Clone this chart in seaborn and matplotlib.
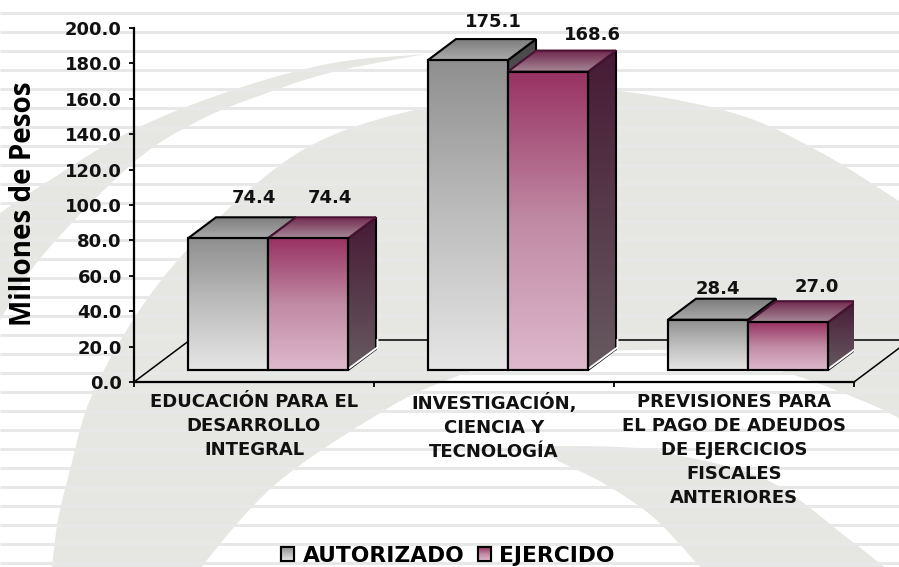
import numpy as np
import pandas as pd
import matplotlib
matplotlib.use('Agg')
import matplotlib.pyplot as plt
import seaborn as sns
from matplotlib.colors import LinearSegmentedColormap
from matplotlib.patches import Polygon

# Datos
categorias = ['EDUCACIÓN PARA EL\nDESARROLLO\nINTEGRAL',
              'INVESTIGACIÓN,\nCIENCIA Y\nTECNOLOGÍA',
              'PREVISIONES PARA\nEL PAGO DE ADEUDOS\nDE EJERCICIOS\nFISCALES\nANTERIORES']
series = ['AUTORIZADO', 'EJERCIDO']
autorizado = [74.4, 175.1, 28.4]
ejercido = [74.4, 168.6, 27.0]
y_ticks = [0, 20, 40, 60, 80, 100, 120, 140, 160, 180, 200]

df = pd.DataFrame({
    'categoria': categorias * 2,
    'serie': [series[0]] * 3 + [series[1]] * 3,
    'valor': autorizado + ejercido,
})

# Colores de los degradados (arriba -> abajo)
frente = {series[0]: ['#8f8f8f', '#bdbdbd', '#e6e6e6'], series[1]: ['#983263', '#c08aa4', '#dfb9cd']}
tapa = {series[0]: ['#7d7d7d', '#aaaaaa'], series[1]: ['#73294f', '#a58a98']}
lado = {series[0]: ['#4a4a4a', '#666666'], series[1]: ['#471a35', '#675a60']}
gris_fondo = '#e6e6e3'
raya = '#e8e8e8'

W, H = 899, 567
sns.set_theme(style='white')
plt.rcParams['font.family'] = ['DejaVu Sans']
plt.rcParams['font.weight'] = 'bold'

fig = plt.figure(figsize=(W / 100, H / 100), dpi=100, facecolor='white')


def curva(puntos, n=24):
    # Catmull-Rom para que los bordes del fondo queden suaves
    p = np.array(puntos, dtype=float)
    p = np.vstack([2 * p[0] - p[1], p, 2 * p[-1] - p[-2]])
    salida = []
    for i in range(1, len(p) - 2):
        for t in np.linspace(0, 1, n, endpoint=False):
            salida.append(0.5 * (2 * p[i] + (p[i + 1] - p[i - 1]) * t
                                 + (2 * p[i - 1] - 5 * p[i] + 4 * p[i + 1] - p[i + 2]) * t ** 2
                                 + (3 * p[i] - p[i - 1] - 3 * p[i + 1] + p[i + 2]) * t ** 3))
    salida.append(p[-2])
    return np.array(salida)


# Fondo: rayas y arcos, en pixeles
bg = fig.add_axes([0, 0, 1, 1], zorder=0)
bg.set_xlim(0, W)
bg.set_ylim(H, 0)
bg.axis('off')
bg.hlines(13 + 18.95 * np.arange(30), 0, W, color=raya, lw=2.2)

media_luna = np.vstack([
    curva([(-10, 220), (0, 213), (50, 180), (133, 130), (233, 90), (333, 63), (425, 54)]),
    curva([(425, 54), (333, 72), (267, 93), (200, 120), (133, 163), (43, 255), (0, 320), (-10, 335)]),
])
anillo = np.vstack([
    curva([(50, 580), (52, 567), (58, 520), (70, 470), (90, 400), (133, 320), (187, 250), (267, 175),
           (333, 135), (423, 108), (520, 92), (610, 90), (733, 113), (820, 152), (910, 208)]),
    curva([(910, 425), (877, 407), (800, 377), (720, 355), (640, 350), (520, 358), (440, 383), (380, 413),
           (277, 483), (207, 560), (198, 580)]),
])
banda = np.vstack([
    curva([(540, 446), (617, 447), (667, 453), (767, 480), (850, 540), (900, 580)]),
    curva([(712, 580), (700, 567), (653, 517), (603, 483), (557, 460), (540, 446)]),
])
for forma in [media_luna, anillo, banda]:
    bg.fill(forma[:, 0], forma[:, 1], color=gris_fondo, lw=0)

# Ejes: 0 en y=382, 200 en y=28, categorias de 134 a 854
ax = fig.add_axes([134 / W, 1 - 382 / H, 720 / W, 354 / H], zorder=1)
ax.patch.set_visible(False)
sns.barplot(data=df, x='categoria', y='valor', hue='serie', hue_order=series,
            palette=[frente[s][1] for s in series], width=2 / 3, gap=0, dodge=True,
            edgecolor='black', linewidth=1.5, ax=ax)
handles = ax.get_legend().legend_handles
labels = series
ax.get_legend().remove()

px_x = 1 / 240
px_y = 200 / 354
xlim = (-0.5, 2.5)
ylim = (0, 200)
dx, dy = 28 * px_x, 21 * px_y
corr_x, base = 14 * px_x, 12 * px_y


def cara(verts, colores, z, borde='black', lw=1.5):
    xs, ys = zip(*verts)
    pol = Polygon(verts, closed=True, facecolor='none', edgecolor=borde, lw=lw, zorder=z + 0.1, joinstyle='miter')
    ax.add_patch(pol)
    cmap = LinearSegmentedColormap.from_list('g', colores)
    img = ax.imshow(np.linspace(0, 1, 256)[:, None], cmap=cmap, aspect='auto', zorder=z, interpolation='bilinear',
                    extent=(min(xs), max(xs), min(ys), max(ys)))
    img.set_clip_path(pol)


etiqueta_dx = [26, 25, 10, 22, 44, 29]
etiqueta_dy = [40, 38, 31, 40, 37, 35]
barras = [b for c in ax.containers for b in c]
valores = autorizado + ejercido
for i, barra in enumerate(barras):
    s = series[i // 3]
    x0 = barra.get_x() + corr_x
    ancho = barra.get_width()
    alto = barra.get_height()
    barra.set_x(x0)
    barra.set_y(base)
    x1, y0, y1 = x0 + ancho, base, base + alto
    z = 3 + (i % 3) * 2 + (i // 3)
    borde = 'black' if i < 3 else '#4a1233'

    cara([(x1, y0), (x1 + dx, y0 + dy), (x1 + dx, y1 + dy), (x1, y1)], lado[s], z)
    cara([(x0, y1), (x0 + dx, y1 + dy), (x1 + dx, y1 + dy), (x1, y1)], tapa[s], z + 0.2, borde=borde)
    cara([(x0, y0), (x1, y0), (x1, y1), (x0, y1)], frente[s], z + 0.4)
    barra.set_facecolor('none')
    barra.set_zorder(z + 0.6)
    # brillo blanco en la base del lado
    ax.plot([x1 + 0.004, x1 + dx + 0.006, x1 + dx + 0.006], [y0 + 0.9, y0 + dy + 0.9, y0 + dy + 10 * px_y],
            color='white', lw=1.4, zorder=z + 0.3, solid_capstyle='butt')

    ax.annotate(f'{valores[i]:.1f}', xy=(x0 + ancho / 2, y1),
                xytext=(etiqueta_dx[i] * 0.72, etiqueta_dy[i] * 0.72), textcoords='offset points',
                ha='center', va='center', fontsize=13, fontweight='bold', color='#111111',
                zorder=20, annotation_clip=False)

# Piso en perspectiva
ax.plot([-0.5, -0.5 + 2 * dx], [0, 2 * dy], color='black', lw=1.1, zorder=2, clip_on=False)
ax.plot([-0.5 + 2 * dx, 3.0], [2 * dy, 2 * dy], color='black', lw=1.1, zorder=2, clip_on=False)
ax.plot([2.5, 2.5 + 2 * dx], [0, 2 * dy], color='black', lw=1.1, zorder=2, clip_on=False)

ax.set_xlim(xlim)
ax.set_ylim(ylim)
sns.despine(ax=ax)
for lado_eje in ['left', 'bottom']:
    ax.spines[lado_eje].set_linewidth(1.6)
    ax.spines[lado_eje].set_color('black')
    ax.spines[lado_eje].set_zorder(30)

ax.set_xlabel('')
ax.set_ylabel('Millones de Pesos', fontsize=20, fontfamily='Open Sans', fontweight='bold', color='black')
ax.yaxis.set_label_coords((38 - 134) / 720, (382 - 204) / 354)
ax.set_yticks(y_ticks)
ax.set_yticklabels([f'{v:.1f}' for v in y_ticks], fontsize=13, fontweight='bold', color='#111111')
ax.tick_params(axis='y', length=3.8, width=1.3, color='black', pad=5, left=True)
ax.set_xticks([-0.5, 0.5, 1.5, 2.5])
ax.set_xticklabels(['', '', '', ''])
ax.tick_params(axis='x', which='major', length=3.8, width=1.3, color='black', bottom=True)
ax.set_xticks([0, 1, 2], minor=True)
ax.set_xticklabels(categorias, minor=True, fontsize=13, fontweight='bold', color='#111111', linespacing=1.42)
ax.tick_params(axis='x', which='minor', length=0, pad=8)

# Leyenda
ley = fig.legend(handles, labels, ncol=2, frameon=False, loc='center', bbox_to_anchor=(448 / W, 1 - 556 / H),
                 prop={'family': 'DejaVu Sans', 'weight': 'bold', 'size': 15.7}, handlelength=0.6, handleheight=0.6,
                 handletextpad=0.4, columnspacing=0.6, borderpad=0, labelcolor='black')

# Degradado de los cuadritos de la leyenda
fig.canvas.draw()
top = fig.add_axes([0, 0, 1, 1], zorder=6)
top.set_xlim(0, W)
top.set_ylim(0, H)
top.axis('off')
for h, s in zip(ley.legend_handles, series):
    c = h.get_window_extent()
    cmap = LinearSegmentedColormap.from_list('g', frente[s])
    top.imshow(np.linspace(0, 1, 64)[:, None], cmap=cmap, aspect='auto', interpolation='bilinear',
               extent=(c.x0, c.x1, c.y0, c.y1))
    top.add_patch(Polygon([(c.x0, c.y0), (c.x1, c.y0), (c.x1, c.y1), (c.x0, c.y1)], closed=True,
                          facecolor='none', edgecolor='black', lw=1.5))
top.set_xlim(0, W)
top.set_ylim(0, H)

fig.savefig('out.png', dpi=100)
